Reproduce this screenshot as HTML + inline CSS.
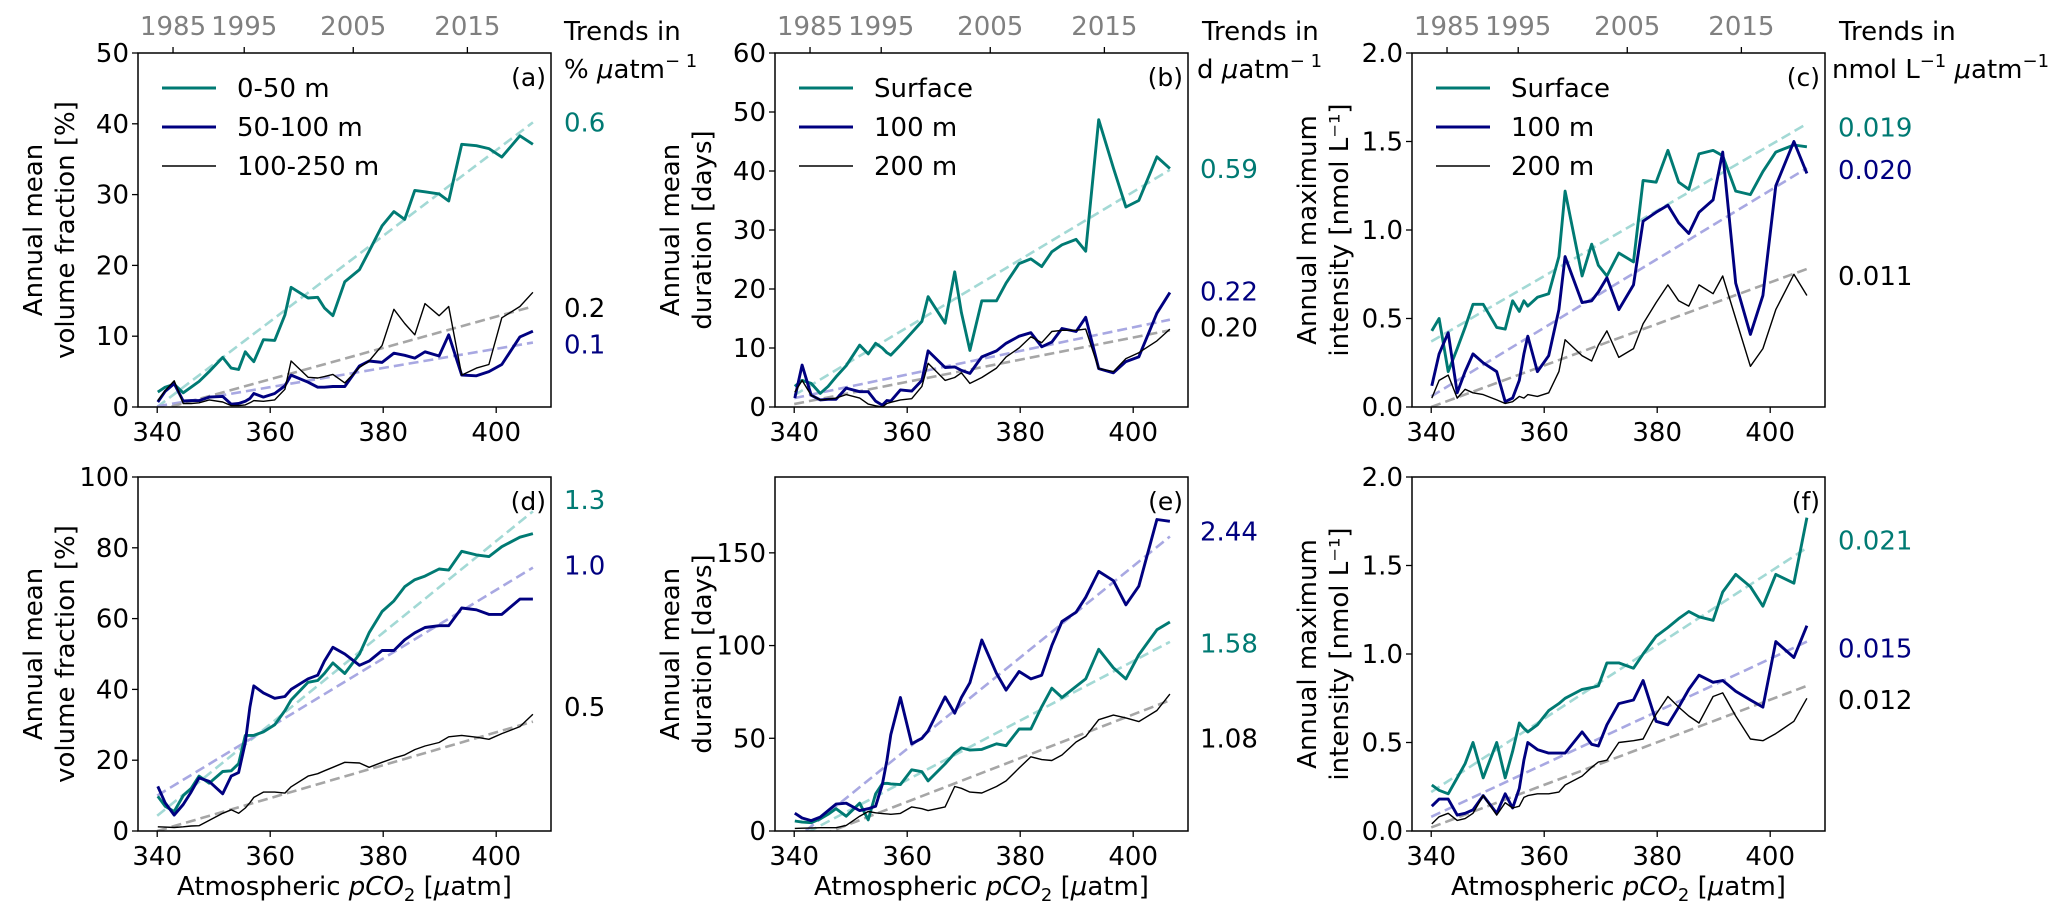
<!DOCTYPE html>
<html><head><meta charset="utf-8"><style>
body{margin:0;background:#fff}
svg{display:block;font-family:"DejaVu Sans","Liberation Sans",sans-serif}
</style></head><body>
<svg id="fig" width="2067" height="917" viewBox="0 0 2067 917" xmlns="http://www.w3.org/2000/svg"></svg>
<script>
// ---- shared x data (atmospheric pCO2) ----
const co2 = [340.1,341.4,343.0,344.6,346.0,347.4,349.2,351.6,353.1,354.4,355.6,356.4,357.1,358.8,360.8,362.6,363.7,366.7,368.4,369.6,371.1,373.2,375.8,377.5,379.8,381.9,383.8,385.6,387.4,389.9,391.6,393.9,396.5,398.7,401.0,404.2,406.5];
const xTicks = [340,360,380,400];
const yearLabels = ["1985","1995","2005","2015"];
const yearPos = [342.8,355.4,374.7,394.9];
const trendX = [340,406.5];

// ---- panel (a) ----
const aTeal = [2.1,2.8,3.2,2.0,2.8,3.6,5.0,7.0,5.5,5.3,7.8,7.0,6.4,9.5,9.4,13,16.9,15.4,15.5,14,12.9,17.7,19.4,22,25.6,27.6,26.5,30.6,30.4,30.1,29.1,37.1,36.9,36.5,35.3,38.3,37.1];
const aNavy = [0.7,2.2,3.3,0.85,0.9,0.9,1.4,1.5,0.4,0.5,0.8,1.2,1.9,1.4,1.9,3.0,4.5,3.5,2.8,2.8,2.9,2.9,5.8,6.5,6.3,7.6,7.3,6.9,7.8,7.2,10.2,4.5,4.4,5.0,6.0,9.9,10.7];
const aBlack = [0.9,2.3,3.7,0.5,0.5,0.6,1.0,0.7,0.2,0.2,0.3,0.6,0.9,0.8,1.0,2.5,6.5,4.2,4.1,4.3,4.6,3.4,5.6,6.5,8.7,13.8,11.8,10.2,14.6,12.9,14.2,4.5,5.5,6.0,12.6,14.2,16.2];
const aTrends = [[0,40.2],[0.1,9.1],[-0.5,14.2]];
const aTrendLabels = ["0.6","0.1","0.2"];
const aTrendPos = [40.2,8.8,14];
// ---- panel (b) ----
const bTeal = [3.5,4.5,4.0,2.3,3.5,5.1,7.0,10.5,9.0,10.8,10.0,9.2,8.8,10.5,12.6,14.5,18.7,14.2,22.9,16,9.6,18,18,21,24.3,25.1,23.8,26.3,27.5,28.4,26.4,48.7,40.5,33.9,35,42.4,40.4];
const bNavy = [1.5,7.1,2.0,1.2,1.3,1.3,3.2,2.6,2.6,1.0,0.3,1.1,1.0,2.9,2.7,4.5,9.5,6.7,6.8,6.2,5.7,8.5,9.5,10.8,12.0,12.6,10.2,11.0,13.3,12.8,15.2,6.5,5.8,7.7,8.5,15.9,19.4];
const bBlack = [2.5,4.5,2.0,1.2,1.3,1.5,2.1,1.5,0.5,0.2,0,0.6,0.8,1.2,1.4,3.5,7.4,4.5,5.0,5.8,4.0,5.0,6.6,8.5,10,11.9,10.9,12.8,13.0,13.0,13.2,6.5,6.0,8.2,9.2,11.2,13.2];
const bTrends = [[2,40.2],[1.5,14.8],[0.5,13.0]];
const bTrendLabels = ["0.59","0.22","0.20"];
const bTrendPos = [40.3,19.6,13.5];
// ---- panel (c) ----
const cTeal = [0.43,0.5,0.2,0.33,0.45,0.58,0.58,0.45,0.44,0.6,0.54,0.6,0.57,0.62,0.64,0.85,1.22,0.74,0.92,0.8,0.74,0.87,0.82,1.28,1.27,1.45,1.27,1.23,1.43,1.45,1.42,1.22,1.2,1.33,1.44,1.48,1.47];
const cNavy = [0.12,0.3,0.42,0.08,0.2,0.3,0.25,0.2,0.03,0.05,0.15,0.3,0.4,0.2,0.29,0.55,0.85,0.59,0.6,0.65,0.73,0.55,0.69,1.05,1.1,1.14,1.04,0.98,1.1,1.17,1.44,0.7,0.41,0.63,1.25,1.5,1.32];
const cBlack = [0.05,0.15,0.18,0.05,0.1,0.08,0.07,0.04,0.02,0.03,0.06,0.05,0.07,0.06,0.08,0.2,0.38,0.29,0.26,0.35,0.43,0.28,0.33,0.47,0.59,0.69,0.6,0.57,0.69,0.64,0.74,0.5,0.23,0.33,0.55,0.75,0.63];
const cTrends = [[0.37,1.6],[0.06,1.35],[0.0,0.78]];
const cTrendLabels = ["0.019","0.020","0.011"];
const cTrendPos = [1.58,1.34,0.74];
// ---- panel (d) ----
const dTeal = [9.8,7,5.5,10,12,15.5,13.5,16.8,17,19,27,27,27,28,30,34,37,42,42.5,44.5,47.5,44.5,50,56,62,65,69,71,72,74,73.7,79,78,77.5,80.3,83,84];
const dNavy = [12.6,8,4.5,7.5,11,15,14,10.5,15.5,16.5,25,35,41,39,37.5,38,40,43,44,48,51.9,50,46.8,48,51,51,54,56,57.5,58,58,63,62.5,61.2,61.2,65.5,65.5];
const dBlack = [1.2,1.1,1,1.2,1.4,1.5,3,5,6,5,6.5,8,9.5,11,11,10.7,12.5,15.5,16.2,17,18,19.4,19.2,18,19.4,20.6,21.5,23,24,25,26.6,27,26.5,25.9,27.5,29.5,33];
const dTrends = [[4.3,90.3],[10,74.4],[0,30.9]];
const dTrendLabels = ["1.3","1.0","0.5"];
const dTrendPos = [93.5,75,35];
// ---- panel (e) ----
const eTeal = [5.4,4.8,4.5,6.5,9,12,8,15,6,20,25.5,25.7,25.4,25,33,32,27,36.2,42,44.8,43.6,44,47,46,55,55,67,77,72,78,82,98,88,82,95,108.5,112.7];
const eNavy = [9.6,7,5.6,7.5,11,14.5,15,11,12,13.3,25,38,52,72,47,50,54,72.3,63.5,72,80,103,85,76,86,82,84,100,113,118,126,140,135,122,132,168,167];
const eBlack = [1.4,1.5,1.6,1.8,1.8,1.8,3,8,10.5,9.8,9.4,9.2,9,9.5,13,12,11,13,24,23,21,20.5,24,27,34,40,38.5,38,41,48,51,60,62.5,61,59,65,73.8];
const eTrends = [[-4.5,102],[-4.9,158.8],[-7.8,70.5]];
const eTrendLabels = ["1.58","2.44","1.08"];
const eTrendPos = [101,161.5,50];
// ---- panel (f) ----
const fTeal = [0.26,0.23,0.21,0.3,0.38,0.5,0.3,0.5,0.3,0.45,0.61,0.58,0.56,0.6,0.68,0.72,0.75,0.8,0.81,0.82,0.95,0.95,0.92,1.0,1.1,1.15,1.2,1.24,1.21,1.19,1.35,1.45,1.38,1.27,1.45,1.4,1.77];
const fNavy = [0.14,0.18,0.18,0.09,0.1,0.12,0.2,0.1,0.21,0.13,0.24,0.4,0.5,0.46,0.44,0.44,0.44,0.56,0.49,0.48,0.6,0.72,0.74,0.85,0.62,0.6,0.7,0.8,0.88,0.84,0.85,0.79,0.74,0.7,1.07,0.98,1.16];
const fBlack = [0.04,0.08,0.1,0.06,0.07,0.1,0.2,0.09,0.16,0.13,0.14,0.19,0.2,0.21,0.21,0.22,0.26,0.31,0.36,0.39,0.4,0.5,0.51,0.52,0.66,0.76,0.7,0.65,0.61,0.76,0.78,0.65,0.52,0.51,0.55,0.62,0.75];
const fTrends = [[0.22,1.6],[0.08,1.07],[0.02,0.82]];
const fTrendLabels = ["0.021","0.015","0.012"];
const fTrendPos = [1.64,1.03,0.74];

const TEAL="#007a73", NAVY="#000080", BLACK="#000";
const DTEAL="#a3d9d5", DNAVY="#a8a8e2", DGRAY="#a6a6a6";
const NS="http://www.w3.org/2000/svg";
const FS=26;
const svg=document.getElementById('fig');
function mk(tag,attrs,parent){const e=document.createElementNS(NS,tag);for(const k in attrs)e.setAttribute(k,attrs[k]);(parent||svg).appendChild(e);return e;}

const XMIN=336.6, XMAX=409.7, PW=413, PH=354;
const panels=[
 {id:'a',L:138,T:53,ymax:50,yt:[0,10,20,30,40,50],fmt:v=>v,series:[aTeal,aNavy,aBlack],trends:aTrends,tl:aTrendLabels,tp:aTrendPos,tx:564,legend:["0-50 m","50-100 m","100-250 m"],yl:["Annual mean","volume fraction [%]"],head:1},
 {id:'b',L:775,T:53,ymax:60,yt:[0,10,20,30,40,50,60],fmt:v=>v,series:[bTeal,bNavy,bBlack],trends:bTrends,tl:bTrendLabels,tp:bTrendPos,tx:1200,legend:["Surface","100 m","200 m"],yl:["Annual mean","duration [days]"],head:1},
 {id:'c',L:1412,T:53,ymax:2,yt:[0,0.5,1,1.5,2],fmt:v=>v.toFixed(1),series:[cTeal,cNavy,cBlack],trends:cTrends,tl:cTrendLabels,tp:cTrendPos,tx:1838,legend:["Surface","100 m","200 m"],yl:["Annual maximum","intensity [nmol L\u207B\u00B9]"],head:1},
 {id:'d',L:138,T:477,ymax:100,yt:[0,20,40,60,80,100],fmt:v=>v,series:[dTeal,dNavy,dBlack],trends:dTrends,tl:dTrendLabels,tp:dTrendPos,tx:564,yl:["Annual mean","volume fraction [%]"]},
 {id:'e',L:775,T:477,ymax:190.9,yt:[0,50,100,150],fmt:v=>v,series:[eTeal,eNavy,eBlack],trends:eTrends,tl:eTrendLabels,tp:eTrendPos,tx:1200,yl:["Annual mean","duration [days]"]},
 {id:'f',L:1412,T:477,ymax:2,yt:[0,0.5,1,1.5,2],fmt:v=>v.toFixed(1),series:[fTeal,fNavy,fBlack],trends:fTrends,tl:fTrendLabels,tp:fTrendPos,tx:1838,yl:["Annual maximum","intensity [nmol L\u207B\u00B9]"]}
];
const colors=[TEAL,NAVY,BLACK], dcolors=[DTEAL,DNAVY,DGRAY], widths=[2.9,2.9,1.4], names=['teal','navy','black'];
const defs=mk('defs',{});
panels.forEach(p=>{
  const sx=v=>p.L+(v-XMIN)/(XMAX-XMIN)*PW;
  const sy=v=>p.T+PH-(v/p.ymax)*PH;
  const g=mk('g',{});
  
  
  const cp=mk('clipPath',{id:'clip'+p.id},defs);
  mk('rect',{x:p.L,y:p.T,width:PW,height:PH},cp);
  p.trends.forEach((t,i)=>{
    const l=mk('line',{x1:sx(trendX[0]),y1:sy(t[0]),x2:sx(trendX[1]),y2:sy(t[1]),stroke:dcolors[i],'stroke-width':2.6,'stroke-dasharray':'10,5','clip-path':'url(#clip'+p.id+')'},g);
    
    
  });
  p.series.forEach((s,i)=>{
    const pts=s.map((v,k)=>sx(co2[k]).toFixed(1)+','+sy(v).toFixed(1)).join(' ');
    const pl=mk('polyline',{points:pts,fill:'none',stroke:colors[i],'stroke-width':widths[i],'stroke-linejoin':'round','clip-path':'url(#clip'+p.id+')'},g);
    
    
  });
  const fr=mk('rect',{x:p.L,y:p.T,width:PW,height:PH,fill:'none',stroke:'#000','stroke-width':1.5},g);
  
  
  xTicks.forEach(v=>{
    mk('line',{x1:sx(v),y1:p.T+PH,x2:sx(v),y2:p.T+PH+6,stroke:'#000','stroke-width':1.3},g);
    const t=mk('text',{x:sx(v),y:p.T+PH+34,'font-size':FS,'text-anchor':'middle'},g);
    t.textContent=v;
    
    
  });
  p.yt.forEach(v=>{
    mk('line',{x1:p.L-6,y1:sy(v),x2:p.L,y2:sy(v),stroke:'#000','stroke-width':1.3},g);
    const t=mk('text',{x:p.L-9,y:sy(v)+9,'font-size':FS,'text-anchor':'end'},g);
    t.textContent=p.fmt(v);
    
    
  });
  if(p.head){
    yearPos.forEach((v,i)=>{
      mk('line',{x1:sx(v),y1:p.T-6,x2:sx(v),y2:p.T,stroke:'#000','stroke-width':1.3},g);
      const t=mk('text',{x:sx(v),y:p.T-18,'font-size':FS,'text-anchor':'middle',fill:'#808080'},g);
      t.textContent=yearLabels[i];
      
      
    });
  }
  const pl=mk('text',{x:p.L+PW-5,y:p.T+33,'font-size':25,'text-anchor':'end'},g);
  pl.textContent='('+p.id+')';
  
  
  p.yl.forEach((s,i)=>{
    const x=p.L-(i==0?96:64), y=p.T+PH/2;
    const t=mk('text',{x:x,y:y,'font-size':FS,'text-anchor':'middle',transform:'rotate(-90 '+x+' '+y+')'},g);
    t.textContent=s;
    
    
  });
  p.tl.forEach((s,i)=>{
    const t=mk('text',{x:p.tx,y:sy(p.tp[i])+9,'font-size':FS,fill:colors[i]},g);
    t.textContent=s;
    
    
  });
  if(p.legend){
    p.legend.forEach((s,i)=>{
      const y=p.T+35+i*39;
      const ln=mk('line',{x1:p.L+24,y1:y,x2:p.L+78,y2:y,stroke:colors[i],'stroke-width':widths[i]},g);
      
      
      const t=mk('text',{x:p.L+99,y:y+9,'font-size':FS},g);
      t.textContent=s;
      
      
    });
  }
  if(!p.head){
    const t=mk('text',{x:p.L+PW/2,y:895,'font-size':FS,'text-anchor':'middle'},g);
    t.innerHTML='Atmospheric <tspan font-style="italic">pCO</tspan><tspan font-size="18" dy="6">2</tspan><tspan dy="-6"> [</tspan><tspan font-style="italic">\u03BC</tspan>atm]';
    
    
  }
});
function header(x1,x2,html,name){
  const t1=mk('text',{x:x1,y:40,'font-size':FS});
  t1.textContent='Trends in';
  
  
  const t2=mk('text',{x:x2,y:78,'font-size':FS});
  t2.innerHTML=html;
  
  
}
header(564,564,'% <tspan font-style="italic">\u03BC</tspan>atm<tspan font-size="18" dy="-11">\u2212 1</tspan>','trend-header-a');
header(1202,1197,'d <tspan font-style="italic">\u03BC</tspan>atm<tspan font-size="18" dy="-11">\u2212 1</tspan>','trend-header-b');
header(1839,1832,'nmol L<tspan font-size="18" dy="-11">\u22121</tspan><tspan dy="11"> </tspan><tspan font-style="italic">\u03BC</tspan>atm<tspan font-size="18" dy="-11">\u22121</tspan>','trend-header-c');
</script>
</body></html>
